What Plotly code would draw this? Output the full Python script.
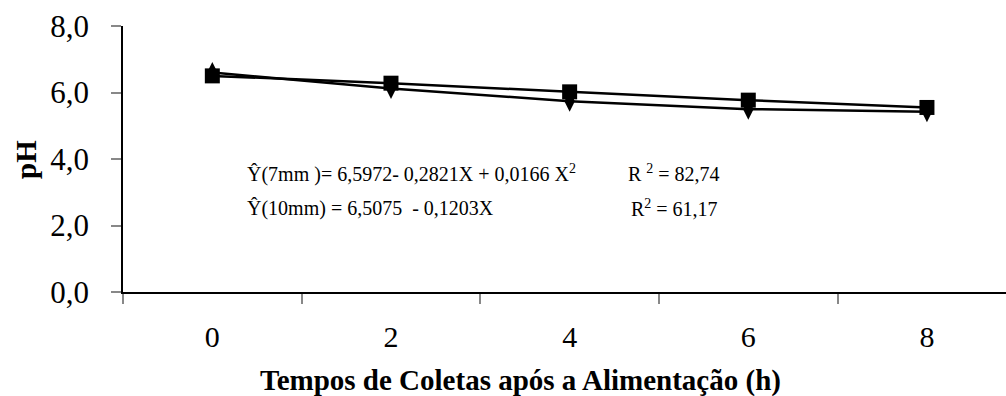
import plotly.graph_objects as go

tempos = [0, 2, 4, 6, 8]
tick_labels = ["0", "2", "4", "6", "8"]
ph_7mm = [6.60, 6.12, 5.74, 5.50, 5.42]
ph_10mm = [6.50, 6.28, 6.02, 5.77, 5.55]
y_ticks = [0, 2, 4, 6, 8]
y_tick_labels = ["0,0", "2,0", "4,0", "6,0", "8,0"]

FONT = "Liberation Serif"
W, H = 1006, 396
ml, mr, mt, mb = 123, 0, 26, 104
pw, ph = W - ml - mr, H - mt - mb


def px(x):
    return (x - ml) / pw


def py(y):
    return 1 - (y - mt) / ph


fig = go.Figure()
fig.add_trace(go.Scatter(
    x=tempos, y=ph_7mm, mode="lines+markers", name="7mm",
    line=dict(color="black", width=2.5),
    marker=dict(symbol="diamond-tall", size=15, color="black"),
))
fig.add_trace(go.Scatter(
    x=tempos, y=ph_10mm, mode="lines+markers", name="10mm",
    line=dict(color="black", width=2.5),
    marker=dict(symbol="square", size=15, color="black"),
))

eq_font = dict(family=FONT, size=20, color="black")
annots = [
    (245, 173, "left", "Ŷ(7mm )= 6,5972- 0,2821X + 0,0166 X<sup>2</sup>"),
    (722, 173, "right", "R <sup>2</sup> = 82,74"),
    (245, 208, "left", "Ŷ(10mm) = 6,5075 \u00a0- 0,1203X"),
    (720, 208, "right", "R<sup>2</sup> = 61,17"),
]
for x, y, anc, txt in annots:
    fig.add_annotation(x=px(x), y=py(y), xref="paper", yref="paper", showarrow=False,
                       text=txt, font=eq_font, xanchor=anc, yanchor="middle")

# axis titles
fig.add_annotation(x=px(520), y=py(380), xref="paper", yref="paper", showarrow=False,
                   text="<b>Tempos de Coletas após a Alimentação (h)</b>",
                   font=dict(family=FONT, size=29, color="black"),
                   xanchor="center", yanchor="middle", borderpad=0)
fig.add_annotation(x=px(26), y=py(160), xref="paper", yref="paper", showarrow=False,
                   text="<b>pH</b>", textangle=-90,
                   font=dict(family=FONT, size=29, color="black"),
                   xanchor="center", yanchor="middle")

fig.update_layout(
    width=W, height=H,
    margin=dict(l=ml, r=mr, t=mt, b=mb),
    plot_bgcolor="white", paper_bgcolor="white",
    showlegend=False,
    font=dict(family=FONT, color="black"),
)
fig.update_xaxes(
    range=[-1, 8.885], automargin=False,
    tickmode="array", tickvals=tempos, ticktext=tick_labels,
    ticks="outside", ticklen=17, tickcolor="rgba(0,0,0,0)",
    tickfont=dict(family=FONT, size=30, color="black"),
    minor=dict(tickmode="array", tickvals=[-1, 1, 3, 5, 7], ticks="outside",
               ticklen=10, tickcolor="#888888", tickwidth=1.5),
    showline=True, linecolor="black", linewidth=1.5,
    showgrid=False, zeroline=False,
)
fig.update_yaxes(
    range=[0, 8], automargin=False,
    tickmode="array", tickvals=y_ticks, ticktext=y_tick_labels,
    ticks="outside", ticklen=10, tickcolor="#888888", tickwidth=1.5,
    ticklabelstandoff=16,
    tickfont=dict(family=FONT, size=31, color="black"),
    showline=True, linecolor="black", linewidth=1.5,
    showgrid=False, zeroline=False,
)

fig.write_html(
    "out.html",
    config={"displayModeBar": False},
    post_script="document.body.style.margin='0';document.body.style.overflow='hidden';",
)
